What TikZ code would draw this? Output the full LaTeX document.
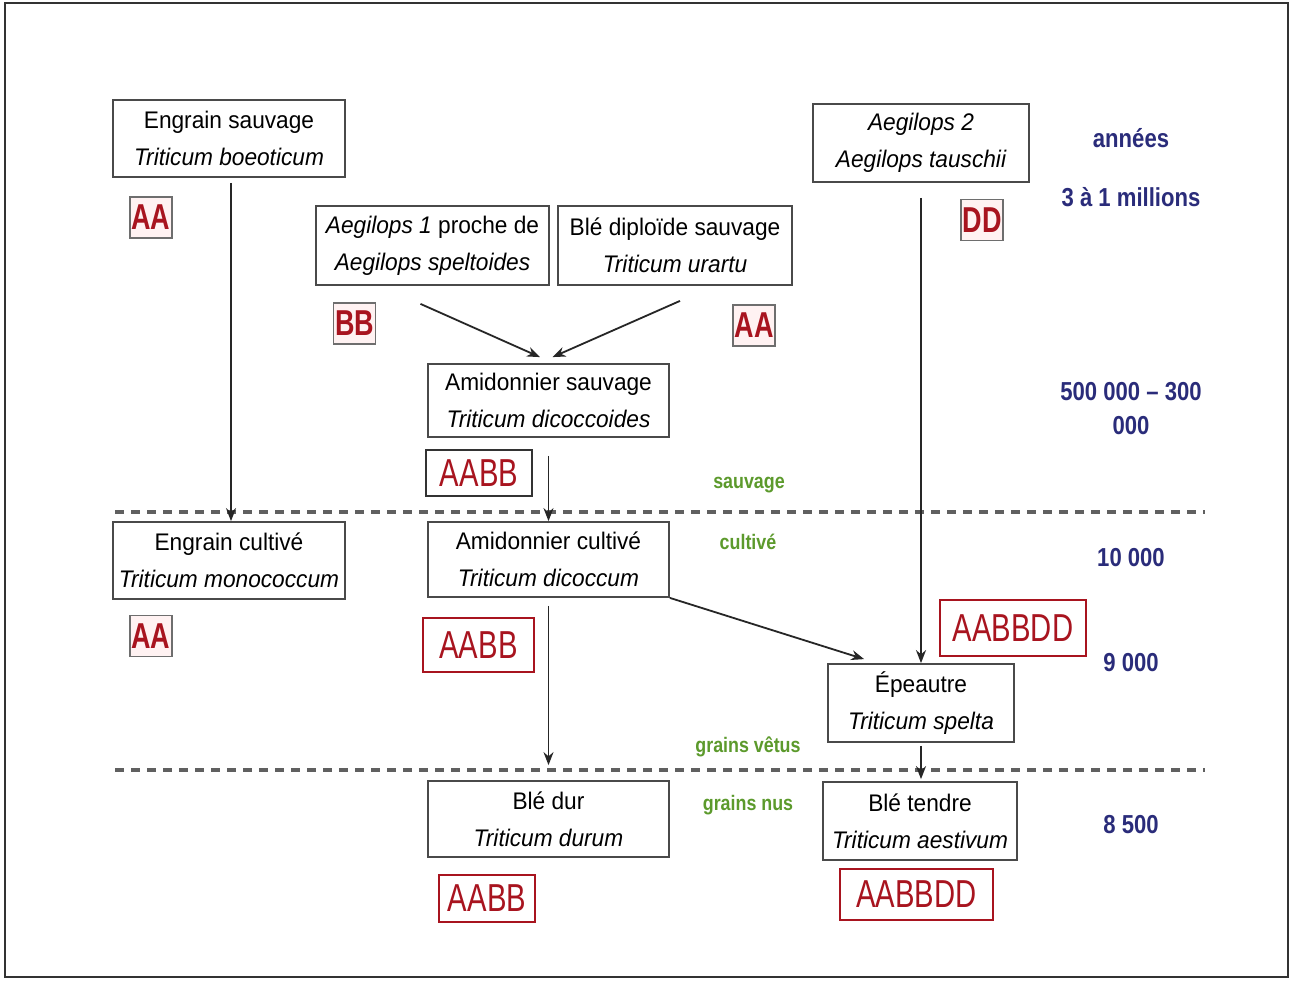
\documentclass[tikz,border=0pt]{standalone}
\usepackage{fontspec}
\setmainfont{Liberation Sans}[FakeStretch=0.945]
\newfontfamily\condfont[FakeStretch=0.75]{Liberation Sans}
\newfontfamily\labfont[FakeStretch=0.85]{Liberation Sans}
\usetikzlibrary{arrows.meta,calc}
\definecolor{boxgray}{HTML}{4A4A4A}
\definecolor{genred}{HTML}{A8141F}
\definecolor{darkblue}{HTML}{2A2C7A}
\definecolor{leafgreen}{HTML}{5C9A2C}
\definecolor{dashgray}{HTML}{606060}
\tikzset{
  species/.style={draw=boxgray, line width=1.8pt, fill=white, inner sep=0pt, align=center,
    font=\fontsize{24}{37}\selectfont, text=black},
  genesmall/.style={draw=boxgray!80, line width=1.5pt, fill=red!5, inner sep=0pt,
    minimum width=42pt, minimum height=41pt, text=genred, font=\condfont\bfseries\fontsize{36}{36}\selectfont},
  genebig/.style={draw=genred, line width=1.5pt, fill=white, inner sep=0pt,
    text=genred, font=\condfont\fontsize{39}{39}\selectfont},
  yearlab/.style={text=darkblue, align=center, font=\labfont\bfseries\fontsize{26}{34}\selectfont},
  phaselab/.style={text=leafgreen, font=\labfont\bfseries\fontsize{21}{21}\selectfont},
  arr/.style={draw=black!85, line width=1.8pt, -{Stealth[length=13pt,width=10pt]}},
  sep/.style={draw=dashgray, line width=3.5pt, dash pattern=on 9pt off 7pt}
}
\begin{document}
\begin{tikzpicture}[x=1pt,y=-1pt]
\useasboundingbox (0,0) rectangle (1292,980);
\fill[white] (0,0) rectangle (1292,980);
\draw[black!80, line width=1.5pt] (5,3) rectangle (1288,977);

% separators
\coordinate (s1a) at (115,512);
\coordinate (s1b) at (1205,512);
\coordinate (s2a) at (115,770);
\coordinate (s2b) at (1205,770);
\draw[sep] (s1a) -- (s1b);
\draw[sep] (s2a) -- (s2b);

% species boxes
\node[species, minimum width=232pt, minimum height=77pt] (es) at (229,138.5) {Engrain sauvage\\\itshape Triticum boeoticum};
\node[species, minimum width=233pt, minimum height=79pt] (aeg1) at (432.5,245.5) {\itshape Aegilops 1\upshape{} proche de\\\itshape Aegilops speltoides};
\node[species, minimum width=234pt, minimum height=79pt] (ura) at (675,245.5) {Blé diploïde sauvage\\\itshape Triticum urartu};
\node[species, minimum width=216pt, minimum height=78pt] (aeg2) at (921,143) {\itshape Aegilops 2\\\itshape Aegilops tauschii};
\node[species, minimum width=241pt, minimum height=73pt] (as) at (548.5,400.5) {Amidonnier sauvage\\\itshape Triticum dicoccoides};
\node[species, minimum width=232pt, minimum height=77pt] (ec) at (229,560.5) {Engrain cultivé\\\itshape Triticum monococcum};
\node[species, minimum width=241pt, minimum height=75pt] (ac) at (548.5,559.5) {Amidonnier cultivé\\\itshape Triticum dicoccum};
\node[species, minimum width=186pt, minimum height=78pt] (ep) at (921,703) {Épeautre\\\itshape Triticum spelta};
\node[species, minimum width=241pt, minimum height=76pt] (bd) at (548.5,819) {Blé dur\\\itshape Triticum durum};
\node[species, minimum width=194pt, minimum height=78pt] (bt) at (920,821) {Blé tendre\\\itshape Triticum aestivum};

% genome labels
\node[genesmall] (g1) at (151,217.5) {AA};
\node[genesmall] (g2) at (354.5,323.5) {BB};
\node[genesmall] (g3) at (754,325.5) {AA};
\node[genesmall] (g4) at (982,220) {DD};
\node[genebig, draw=black!80, minimum width=106pt, minimum height=46pt] (g5) at (479,473) {AABB};
\node[genesmall] (g6) at (151,636) {AA};
\node[genebig, minimum width=111pt, minimum height=54pt] (g7) at (478.5,645) {AABB};
\node[genebig, minimum width=146pt, minimum height=56pt] (g8) at (1013,628) {AABBDD};
\node[genebig, minimum width=96pt, minimum height=47pt] (g9) at (487,898.5) {AABB};
\node[genebig, minimum width=153pt, minimum height=51pt] (g10) at (916.5,894.5) {AABBDD};

% time labels
\node[yearlab] (y0) at (1131,138) {années};
\node[yearlab] (y1) at (1131,197) {3 à 1 millions};
\node[yearlab] (y2) at (1131,409) {500 000 – 300\\000};
\node[yearlab] (y3) at (1131,558) {10 000};
\node[yearlab] (y4) at (1131,663) {9 000};
\node[yearlab] (y5) at (1131,825) {8 500};

% phase labels
\node[phaselab] (p1) at (749,485) {sauvage};
\node[phaselab] (p2) at (748,542) {cultivé};
\node[phaselab] (p3) at (748,747) {grains vêtus};
\node[phaselab] (p4) at (748,805) {grains nus};

% connectors
\draw[arr] ($(es.south)+(2,5)$) -- ($(ec.north)+(2,0)$);
\draw[arr] ($(aeg1.south)+(-12,18)$) -- ($(as.north)+(-8.5,-6)$);
\draw[arr] ($(ura.south)+(5,15)$) -- ($(as.north)+(4,-6)$);
\draw[arr] ($(as.south)+(0,18)$) -- (ac.north);
\draw[arr] ($(ac.south)+(0,8)$) -- ($(bd.north)+(0,-15)$);
\draw[arr] (ac.south east) -- ($(ep.north west)+(37,-4)$);
\draw[arr] ($(aeg2.south)+(0,15)$) -- (ep.north);
\draw[arr] ($(ep.south)+(0,3)$) -- ($(bt.north)+(1,-2)$);
\end{tikzpicture}
\end{document}
